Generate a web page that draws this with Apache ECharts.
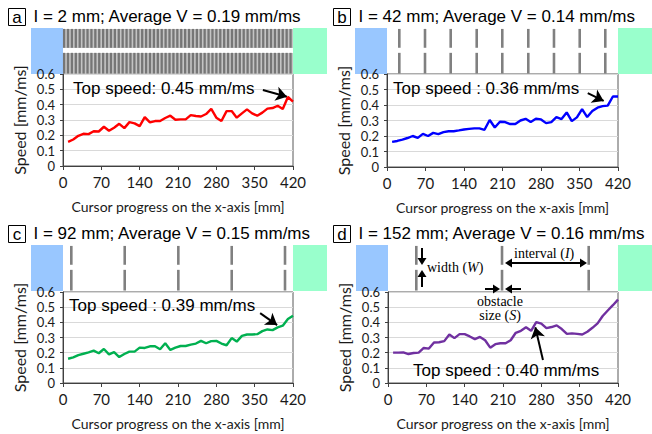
<!DOCTYPE html>
<html>
<head>
<meta charset="utf-8">
<script src="https://cdn.jsdelivr.net/npm/echarts@6/dist/echarts.min.js"></script>
<style>
  html, body { margin: 0; padding: 0; background: #fff; }
  #chart { width: 652px; height: 434px; }
</style>
</head>
<body>
<div id="chart"></div>
<script>
// cursor progress [mm] of each sample (same for all four runs)
var progress = [9.3, 18.7, 28, 37.3, 46.7, 56, 65.3, 74.7, 84, 93.3, 102.7, 112, 121.3, 130.7, 140,
  149.3, 158.7, 168, 177.3, 186.7, 196, 205.3, 214.7, 224, 233.3, 242.7, 252, 261.3, 270.7, 280,
  289.3, 298.7, 308, 317.3, 326.7, 336, 345.3, 354.7, 364, 373.3, 382.7, 392, 401.3, 410.7, 420];

// speed [mm/ms]
var speedA = [0.157, 0.173, 0.197, 0.21, 0.208, 0.227, 0.225, 0.256, 0.23, 0.25, 0.275, 0.247, 0.286, 0.278, 0.26,
  0.319, 0.284, 0.293, 0.293, 0.313, 0.328, 0.302, 0.304, 0.304, 0.332, 0.326, 0.323, 0.339, 0.372, 0.315,
  0.293, 0.358, 0.358, 0.315, 0.343, 0.369, 0.343, 0.328, 0.348, 0.374, 0.378, 0.393, 0.372, 0.45, 0.42];
var speedB = [0.162, 0.168, 0.177, 0.187, 0.2, 0.188, 0.214, 0.2, 0.22, 0.212, 0.225, 0.231, 0.231, 0.236, 0.242,
  0.246, 0.249, 0.249, 0.24, 0.303, 0.255, 0.292, 0.29, 0.277, 0.277, 0.3, 0.311, 0.29, 0.311, 0.307,
  0.283, 0.29, 0.322, 0.309, 0.352, 0.296, 0.32, 0.374, 0.322, 0.361, 0.383, 0.393, 0.396, 0.455, 0.455];
var speedC = [0.16, 0.169, 0.184, 0.193, 0.202, 0.213, 0.196, 0.224, 0.189, 0.204, 0.171, 0.191, 0.207, 0.207, 0.233,
  0.231, 0.242, 0.242, 0.222, 0.262, 0.218, 0.233, 0.244, 0.244, 0.253, 0.26, 0.278, 0.262, 0.276, 0.278,
  0.26, 0.249, 0.296, 0.273, 0.311, 0.32, 0.32, 0.322, 0.342, 0.353, 0.349, 0.367, 0.378, 0.422, 0.444];
var speedD = [0.2, 0.2, 0.202, 0.191, 0.198, 0.2, 0.231, 0.227, 0.267, 0.269, 0.276, 0.32, 0.296, 0.322, 0.322,
  0.307, 0.289, 0.304, 0.282, 0.233, 0.256, 0.262, 0.262, 0.282, 0.331, 0.344, 0.367, 0.344, 0.402, 0.391,
  0.362, 0.369, 0.38, 0.356, 0.324, 0.327, 0.324, 0.32, 0.338, 0.364, 0.393, 0.442, 0.478, 0.513, 0.55];

// obstacle positions in the sketch above each plot (same 0-420 scale)
var obstaclesB = [22.4, 69.1, 115.8, 163.1, 209.6, 256.9, 303.6, 350.4, 396.9];
var obstaclesC = [15.2, 112.7, 210.6, 308.1, 405.4];
var obstaclesD = [51.7, 208.2, 366.5];
var obstaclesA = [];
for (var k = 0; k < 59; k++) obstaclesA.push(2 + k * 7.13);

var panelLetters = ["a", "b", "c", "d"];
var panelTitles = [
  "I = 2 mm; Average V = 0.19 mm/ms",
  "I = 42 mm; Average V = 0.14 mm/ms",
  "I = 92 mm; Average V = 0.15 mm/ms",
  "I = 152 mm; Average V = 0.16 mm/ms"
];
var topSpeedLabels = [
  "Top speed: 0.45 mm/ms",
  "Top speed : 0.36 mm/ms",
  "Top speed : 0.39 mm/ms",
  "Top speed : 0.40 mm/ms"
];
// arrow from label to the top-speed point, [x, speed] pairs
var topSpeedArrows = [
  [[365, 0.496], [409, 0.452]],
  [[365, 0.477], [394, 0.426]],
  [[360, 0.461], [391, 0.382]],
  [[283, 0.152], [269, 0.368]]
];
var lineColors = ["#ff0000", "#0000ff", "#00b050", "#7030a0"];

var speeds = [speedA, speedB, speedC, speedD];
var obstacles = [obstaclesA, obstaclesB, obstaclesC, obstaclesD];

var sans = "'Liberation Sans', Arial, sans-serif";
var axisFont = "Lato, Carlito, sans-serif";
var serif = "'Liberation Serif', 'Times New Roman', serif";

// layout of the four panels
var panels = [
  { left: 63, top: 74, width: 230, height: 92, stripTop: 28, col: 0, row: 0, textX: 73, textY: 88 },
  { left: 387, top: 74, width: 231, height: 93, stripTop: 28, col: 1, row: 0, textX: 393, textY: 88 },
  { left: 63, top: 292, width: 230, height: 91, stripTop: 245, col: 0, row: 1, textX: 69, textY: 305 },
  { left: 388, top: 292, width: 230, height: 91, stripTop: 245, col: 1, row: 1, textX: 413, textY: 370 }
];

var grid = [], xAxis = [], yAxis = [], series = [], graphic = [];

function arrow(x1, y1, x2, y2) {
  var dx = x2 - x1, dy = y2 - y1, len = Math.sqrt(dx * dx + dy * dy);
  var ux = dx / len, uy = dy / len, hl = 7, hw = 4.5;
  var bx = x2 - ux * hl, by = y2 - uy * hl;
  return [
    { type: "line", z: 50, shape: { x1: x1, y1: y1, x2: bx, y2: by }, style: { stroke: "#000", lineWidth: 2 } },
    { type: "polygon", z: 50, shape: { points: [[x2, y2], [bx - uy * hw, by + ux * hw], [bx + uy * hw, by - ux * hw]] }, style: { fill: "#000" } }
  ];
}

function stripItem(params, api) {
  var x = api.value(0);
  var top = api.coord([x, 0.98]);
  var gapTop = api.coord([x, 0.57]);
  var gapBot = api.coord([x, 0.46]);
  var bot = api.coord([x, 0.01]);
  var thin = params.seriesIndex === 4;
  var st = { stroke: thin ? "#767676" : "#808080", lineWidth: thin ? 2.3 : 2.6 };
  return {
    type: "group",
    children: [
      { type: "line", shape: { x1: top[0], y1: top[1], x2: gapTop[0], y2: gapTop[1] }, style: st },
      { type: "line", shape: { x1: gapBot[0], y1: gapBot[1], x2: bot[0], y2: bot[1] }, style: st }
    ]
  };
}

panels.forEach(function (p, i) {
  // plot grid
  grid.push({
    left: p.left, top: p.top, width: p.width, height: p.height,
    show: true, borderColor: "#595959", borderWidth: 1, backgroundColor: "transparent"
  });
  xAxis.push({
    gridIndex: i, type: "value", min: 0, max: 420, interval: 70,
    axisLine: { show: true, onZero: false, lineStyle: { color: "#404040", width: 1 } },
    axisTick: { show: true, length: 4, lineStyle: { color: "#404040" } },
    axisLabel: { margin: 8, fontSize: 15, fontFamily: axisFont, color: "#1a1a1a" },
    splitLine: { show: false },
    name: "Cursor progress on the x-axis [mm]",
    nameLocation: "middle", nameGap: 33,
    nameTextStyle: { fontSize: 14, fontFamily: axisFont, color: "#1a1a1a" }
  });
  yAxis.push({
    gridIndex: i, type: "value", min: 0, max: 0.6, interval: 0.1,
    axisLine: { show: true, lineStyle: { color: "#404040", width: 1 } },
    axisTick: { show: true, length: 3, lineStyle: { color: "#404040" } },
    axisLabel: { margin: 8, fontSize: 13, lineHeight: 13, fontFamily: axisFont, color: "#1a1a1a" },
    splitLine: { show: true, lineStyle: { color: "#d9d9d9", width: 1 } },
    name: "Speed [mm/ms]",
    nameLocation: "middle", nameGap: 36,
    nameTextStyle: { fontSize: 16, fontFamily: axisFont, color: "#1a1a1a" }
  });

  var data = progress.map(function (x, j) { return [x, speeds[i][j]]; });
  series.push({
    type: "line", xAxisIndex: i, yAxisIndex: i, data: data,
    showSymbol: false, symbol: "none",
    lineStyle: { color: lineColors[i], width: 2.4 },
    itemStyle: { color: lineColors[i] },
    z: 5,
    markLine: {
      silent: true, symbol: ["none", "arrow"], symbolSize: 11,
      lineStyle: { color: "#000", width: 2, type: "solid" },
      label: { show: false },
      data: [[{ coord: topSpeedArrows[i][0] }, { coord: topSpeedArrows[i][1] }]]
    }
  });

  // title
  var bx = p.col === 0 ? 8.5 : 333.5;
  var by = p.row === 0 ? 8.5 : 225.5;
  graphic.push({ type: "rect", shape: { x: bx, y: by, width: 17, height: 17 }, style: { fill: "none", stroke: "#000", lineWidth: 1 } });
  graphic.push({ type: "text", x: bx + 8.5, y: by + 9, style: { text: panelLetters[i], font: "17px " + sans, fill: "#000", align: "center", verticalAlign: "middle" } });
  graphic.push({ type: "text", x: bx + 25, y: by + 8, style: { text: panelTitles[i], font: "17px " + sans, fill: "#000", verticalAlign: "middle" } });

  // start (blue) and goal (green) areas
  graphic.push({ type: "rect", shape: { x: p.left - 32, y: p.stripTop, width: 32, height: 46 }, style: { fill: "#99c7ff" } });
  graphic.push({ type: "rect", shape: { x: p.left + p.width, y: p.stripTop, width: 34, height: 46 }, style: { fill: "#99ffcc" } });

  // top speed label
  graphic.push({ type: "text", z: 50, x: p.textX, y: p.textY, style: { text: topSpeedLabels[i], font: "17px " + sans, fill: "#000", verticalAlign: "middle" } });
});

// obstacle strips
panels.forEach(function (p, i) {
  grid.push({ left: p.left, top: p.stripTop, width: p.width, height: 46, show: false });
  xAxis.push({ gridIndex: 4 + i, type: "value", min: 0, max: 420, show: false });
  yAxis.push({ gridIndex: 4 + i, type: "value", min: 0, max: 1, show: false });
});
// light background behind the dense stripes of panel a
graphic.push({ type: "rect", shape: { x: 63, y: 29, width: 230, height: 19 }, style: { fill: "#c4c4c4" } });
graphic.push({ type: "rect", shape: { x: 63, y: 53, width: 230, height: 21 }, style: { fill: "#c4c4c4" } });
panels.forEach(function (p, i) {
  series.push({
    type: "custom", xAxisIndex: 4 + i, yAxisIndex: 4 + i, silent: true, clip: false,
    renderItem: stripItem,
    data: obstacles[i].map(function (x) { return [x]; })
  });
});

// sketch annotations in panel d
var rich = {
  n: { fontFamily: serif, fontSize: 14, color: "#000", lineHeight: 14 },
  i: { fontFamily: serif, fontSize: 14, color: "#000", fontStyle: "italic", lineHeight: 14 }
};
graphic.push({ type: "text", z: 50, x: 427, y: 267, style: { text: "{n|width (}{i|W}{n|)}", rich: rich, verticalAlign: "middle" } });
graphic.push({ type: "text", z: 50, x: 514, y: 253, style: { text: "{n|interval (}{i|I}{n|)}", rich: rich, verticalAlign: "middle" } });
graphic.push({ type: "text", z: 50, x: 500, y: 308, style: { text: "{n|obstacle}\n{n|size (}{i|S}{n|)}", rich: rich, align: "center", verticalAlign: "middle" } });
[].concat(
  arrow(422, 248, 422, 265),
  arrow(422, 287, 422, 270),
  arrow(546, 263, 505, 263),
  arrow(546, 263, 587, 263),
  arrow(485, 289, 500, 289),
  arrow(521, 289, 505, 289)
).forEach(function (g) { graphic.push(g); });

var chart = echarts.init(document.getElementById("chart"), null, { renderer: "svg" });
chart.setOption({
  animation: false,
  backgroundColor: "#fff",
  grid: grid,
  xAxis: xAxis,
  yAxis: yAxis,
  series: series,
  graphic: graphic
});
</script>
</body>
</html>
